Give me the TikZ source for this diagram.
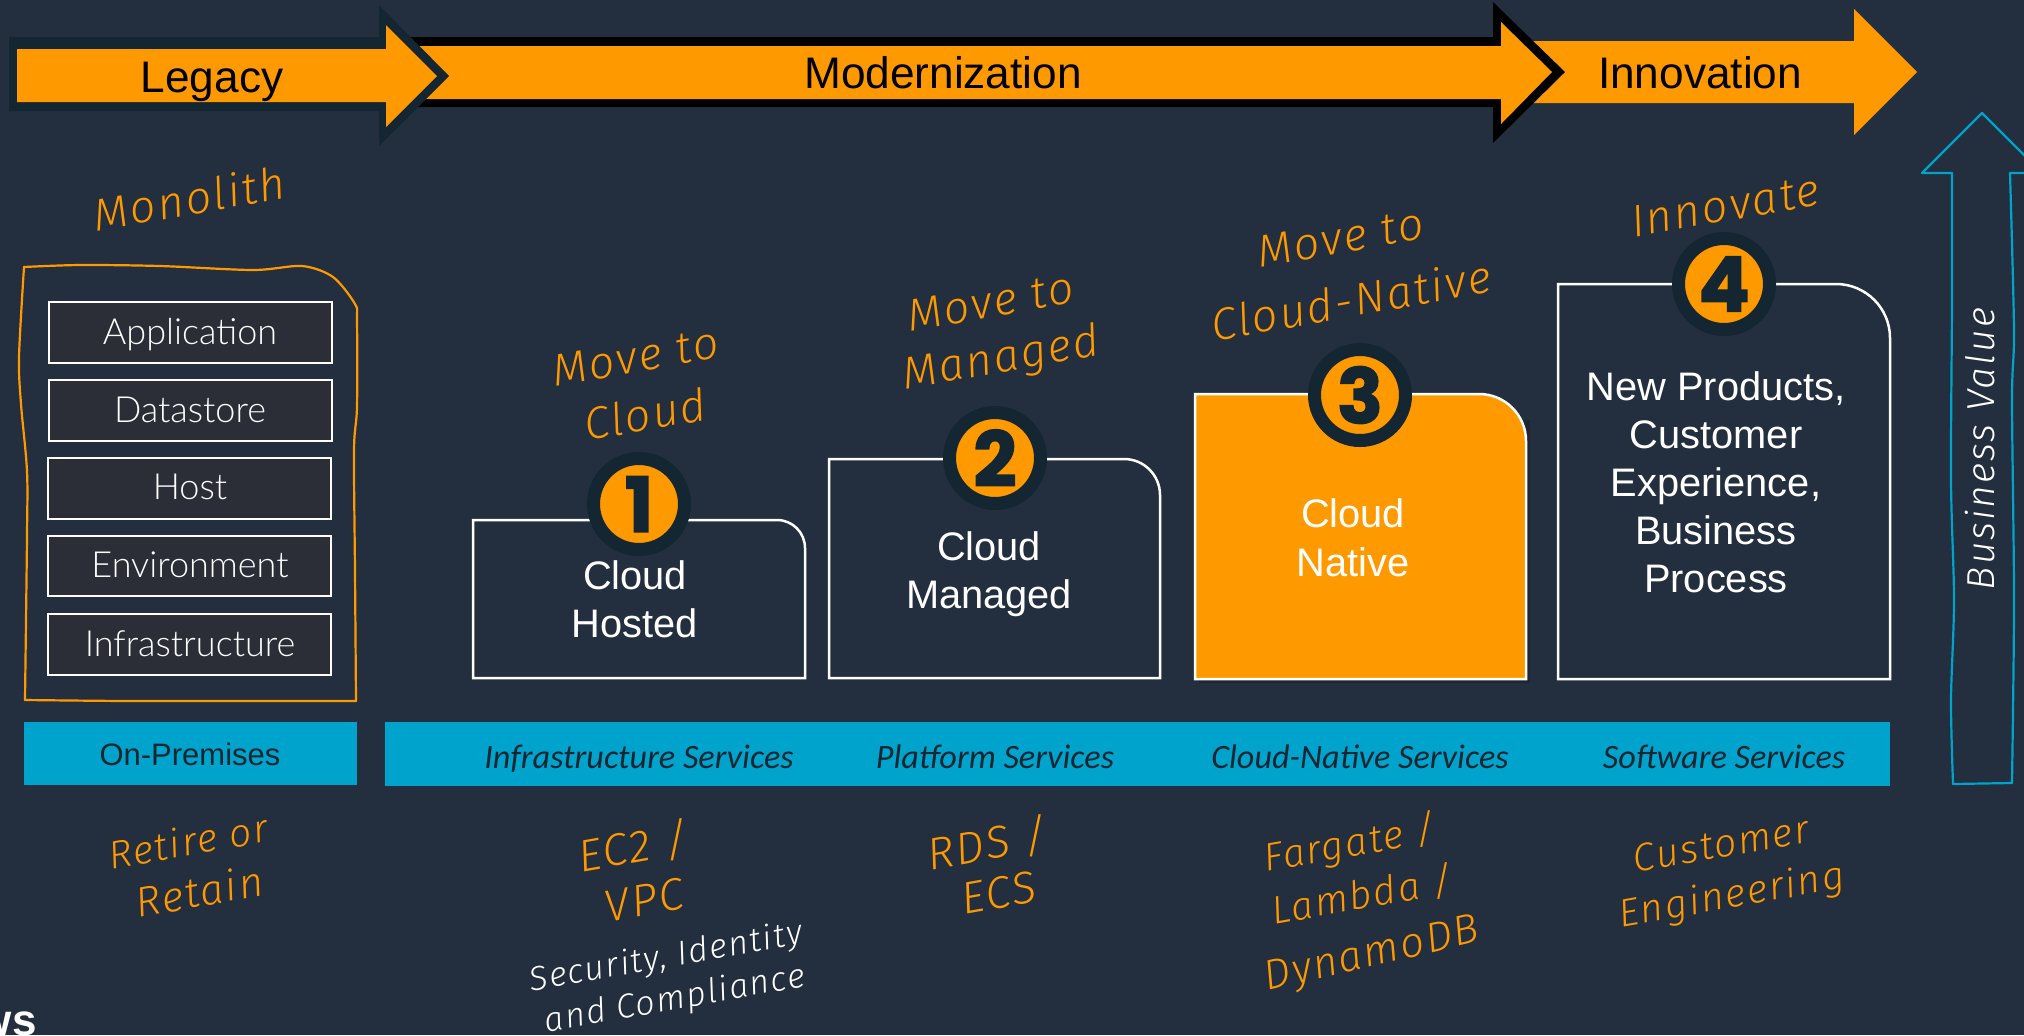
\documentclass[tikz,border=0pt]{standalone}
\usepackage{fontspec}
\setmainfont{Liberation Sans}
\newfontfamily\handf{Fira Sans Light}[ItalicFont=* Italic,LetterSpace=5]
\newfontfamily\lightf{Lato Light}
\newfontfamily\svcf{Carlito}
\newfontfamily\digf{Poppins}[FakeBold=2]
\definecolor{bgc}{HTML}{232F3E}
\definecolor{orng}{HTML}{FF9900}
\definecolor{darkc}{HTML}{132632}
\definecolor{bluec}{HTML}{00A3CC}
\definecolor{stackc}{HTML}{2B2E36}
\tikzset{
  x=0.5pt,y=-0.5pt,
  barlabel/.style={anchor=base,text=black,font=\fontsize{22.1}{26}\selectfont},
  boxlabel/.style={anchor=base,text=white,font=\fontsize{19.9}{24}\selectfont},
  stackbox/.style={draw=white,line width=1pt,fill=stackc},
  stacklabel/.style={anchor=base,text=white,font=\lightf\fontsize{18}{22}\selectfont},
  svclabel/.style={anchor=base,text=darkc,font=\svcf\itshape\fontsize{17.1}{21}\selectfont},
  hand/.style={rotate=10,text=orng,font=\handf\itshape\fontsize{22.5}{27}\selectfont,inner sep=0pt},
  handsmall/.style={hand,font=\handf\itshape\fontsize{19.6}{24}\selectfont},
  handmid/.style={hand,font=\handf\itshape\fontsize{21}{25}\selectfont},
  handw/.style={rotate=10,text=white,font=\handf\itshape\fontsize{17}{20}\selectfont,inner sep=0pt},
  numcirc/.style={circle,fill=orng,draw=darkc,line width=6.5pt,minimum size=45.5pt,inner sep=0pt,text=darkc,font=\digf\bfseries\fontsize{38}{38}\selectfont},
  stepbox/.style={draw=white,line width=1.25pt},
  wob/.style={line width=1.1pt,line cap=round,line join=round}
}
\begin{document}
\begin{tikzpicture}
\useasboundingbox (0,0) rectangle (2024,1035);
\clip (0,0) rectangle (2024,1035);
\fill[bgc] (0,0) rectangle (2024,1035);
% Innovation arrow
\fill[orng] (1500,41) -- (1854,41) -- (1854,9) -- (1917,72) -- (1854,135) -- (1854,103) -- (1500,103) -- cycle;
% Modernization arrow
\fill[black] (355,37) -- (1493,37) -- (1493,2) -- (1565,72) -- (1493,143) -- (1493,107) -- (355,107) -- cycle;
\fill[orng] (355,46) -- (1501,46) -- (1501,22) -- (1552,72) -- (1501,124) -- (1501,99) -- (355,99) -- cycle;
% Legacy arrow
\fill[darkc] (9,37) -- (379,37) -- (379,5) -- (449,76) -- (379,146) -- (379,111) -- (9,111) -- cycle;
\fill[orng] (17,49) -- (386,49) -- (386,25) -- (437,76) -- (386,127) -- (386,102) -- (17,102) -- cycle;
\node[barlabel] (legacy) at (212,92) {Legacy};
\node[barlabel] (modern) at (943,88) {Modernization};
\node[barlabel] (innov) at (1700,88) {Innovation};
% Monolith frame
\draw[orng,wob] plot[smooth] coordinates {(24,267)(80,265)(160,266)(253,270)(302,266)(333,277)(355,304)(357,321)(357,407)(354,450)(355,571)(356,701)};
\draw[orng,wob] plot[smooth] coordinates {(356,701)(233,701)(127,701)(25,700)};
\draw[orng,wob] plot[smooth] coordinates {(25,700)(27,536)(27,471)(21,404)(19,357)(24,267)};
\node[hand] (mono) at (189,198) {Monolith};
% Stack
\draw[stackbox] (49,302) rectangle (332,363);
\draw[stackbox] (49,380) rectangle (332,441);
\draw[stackbox] (48,458) rectangle (331,519);
\draw[stackbox] (48,536) rectangle (331,596);
\draw[stackbox] (48,614) rectangle (331,675);
\node[stacklabel] (app) at (190,344) {Application};
\node[stacklabel] (data) at (190,422) {Datastore};
\node[stacklabel] (host) at (190,499) {Host};
\node[stacklabel] (env) at (190,577) {Environment};
\node[stacklabel] (infra) at (190,656) {Infrastructure};
% Bars
\fill[bluec] (24,722) rectangle (357,785);
\fill[bluec] (385,722) rectangle (1890,786);
\node[anchor=base,text=darkc,font=\fontsize{15.5}{19}\selectfont] (onprem) at (190,765) {On-Premises};
\node[svclabel] (s1) at (639,768) {Infrastructure Services};
\node[svclabel] (s2) at (995,768) {Platform Services};
\node[svclabel] (s3) at (1360,768) {Cloud-Native Services};
\node[svclabel] (s4) at (1724,768) {Software Services};
% Step boxes
\draw[stepbox] (473,678) -- (473,520) -- (777,520) arc[start angle=-90,end angle=0,radius=28] -- (805,678) -- cycle;
\draw[stepbox] (829,678) -- (829,459) -- (1124,459) arc[start angle=-90,end angle=0,radius=36] -- (1160,678) -- cycle;
\fill[black,opacity=.15] (1199,420) rectangle (1530,683);
\draw[stepbox,fill=orng] (1195,679) -- (1195,394) -- (1479,394) arc[start angle=-90,end angle=0,radius=47] -- (1526,679) -- cycle;
\draw[stepbox] (1558,679) -- (1558,284) -- (1836,284) arc[start angle=-90,end angle=0,radius=54] -- (1890,679) -- cycle;
\node[numcirc] (c1) at (639,504) {1};
\node[numcirc] (c2) at (995,458) {2};
\node[numcirc] (c3) at (1360,395) {3};
\node[numcirc] (c4) at (1724,284) {4};
\node[boxlabel] (b1a) at (635,589) {Cloud};
\node[boxlabel] (b1b) at (635,637) {Hosted};
\node[boxlabel] (b2a) at (989,560) {Cloud};
\node[boxlabel] (b2b) at (989,608) {Managed};
\node[boxlabel] (b3a) at (1353,527) {Cloud};
\node[boxlabel] (b3b) at (1353,576) {Native};
\node[boxlabel] (b4a) at (1716,400) {New Products,};
\node[boxlabel] (b4b) at (1716,448) {Customer};
\node[boxlabel] (b4c) at (1716,496) {Experience,};
\node[boxlabel] (b4d) at (1716,544) {Business};
\node[boxlabel] (b4e) at (1716,592) {Process};
% Handwriting above
\node[hand] (h1a) at (635,357) {Move to};
\node[hand] (h1b) at (645,414) {Cloud};
\node[hand] (h2a) at (990,302) {Move to};
\node[hand] (h2b) at (1001,360) {Managed};
\node[hand] (h3a) at (1340,238) {Move to};
\node[hand] (h3b) at (1351,300) {Cloud-Native};
\node[hand] (h4) at (1725,206) {Innovate};
% Handwriting below
\node[handsmall] (l0a) at (188,841) {Retire or};
\node[handmid] (l0b) at (199,891) {Retain};
\node[hand] (l1a) at (633,847) {EC2 /};
\node[hand] (l1b) at (644,900) {VPC};
\node[handw] (l1c) at (666,958) {Security, Identity};
\node[handw] (l1d) at (675,1000) {and Compliance};
\node[hand] (l2a) at (987,844) {RDS /};
\node[hand] (l2b) at (999,893) {ECS};
\node[handsmall] (l3a) at (1350,845) {Fargate /};
\node[handsmall] (l3b) at (1362,895) {Lambda /};
\node[handmid,rotate=3] (l3c) at (1372,956) {DynamoDB};
\node[handsmall] (l4a) at (1721,844) {Customer};
\node[handsmall] (l4b) at (1732,897) {Engineering};
% Business value arrow
\draw[bluec,wob] plot[smooth] coordinates {(1952,173)(1952,300)(1951,480)(1954,600)(1951,700)(1953,784)};
\draw[bluec,wob] (1953,784) -- (2012,783);
\draw[bluec,wob] plot[smooth] coordinates {(2012,783)(2014,600)(2012,400)(2014,330)(2010,173)};
\draw[bluec,wob] (2010,173) -- (2042,173) -- (1982,113) -- (1922,173) -- (1952,173);
\node[handw,rotate=80,font=\handf\itshape\fontsize{19.5}{22}\selectfont] (bv) at (1980,449) {Business Value};
% Logo fragment
\node[anchor=base east,inner sep=0pt,text=white,font=\bfseries\fontsize{22}{24}\selectfont] (aws) at (37,1035) {ws};
\end{tikzpicture}
\end{document}
